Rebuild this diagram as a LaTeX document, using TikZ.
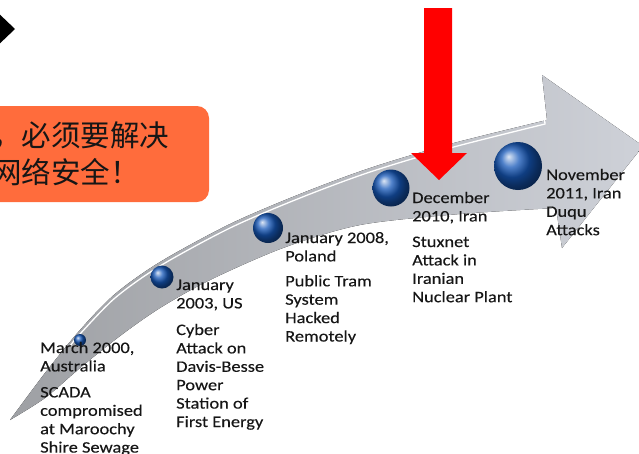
\documentclass[tikz,border=0pt]{standalone}
\usepackage{fontspec}
\setmainfont{Carlito}[FakeStretch=1.15,FakeBold=0.25]
\newfontfamily\cjkf{Noto Sans CJK SC}
\definecolor{txtc}{RGB}{22,22,22}
\definecolor{orbc}{RGB}{22,88,185}
\definecolor{boxc}{RGB}{255,108,60}
\definecolor{arrA}{RGB}{158,160,164}
\definecolor{arrB}{RGB}{194,197,204}
\definecolor{arrC}{RGB}{206,209,216}
\begin{document}
\begin{tikzpicture}[x=1pt,y=-1pt,
  evt/.style={anchor=base west, inner sep=0pt, text=txtc, font=\fontsize{16}{18.4}\selectfont},
  orb/.style={circle, inner sep=0pt, ball color=orbc, draw=none},
  cjk/.style={anchor=base west, inner sep=0pt, text=txtc, font=\cjkf\fontsize{29.5}{35}\selectfont}]
\useasboundingbox (0,0) rectangle (639,453);
\clip (0,0) rectangle (639,453);
% big curved arrow
\fill[left color=arrA, middle color=arrB, right color=arrC]
  plot[smooth] coordinates {(10,420) (45,373) (80,330) (115,294) (160,262) (230,224) (300,194) (370,168) (450,144) (547,120)}
  -- (542,75) -- (643,146) -- (562,248) -- (556,208)
  -- plot[smooth] coordinates {(556,208) (460,214) (360,225) (283,248) (210,280) (160,308) (120,336) (80,368) (45,398) (10,420)}
  -- cycle;
\draw[white, line width=1.3pt, line cap=round]
  plot[smooth] coordinates {(70,346) (80,334) (115,298) (160,266) (230,228) (300,198) (370,172) (450,148) (545,124)}
  -- (541,80);
% black diamond
\fill[black] (-7,8) -- (15,29) -- (-7,50) -- cycle;
% orange box
\fill[boxc, rounded corners=12pt] (-30,106) rectangle (209,202);
\node[cjk] (c1) at (-8,146) {，必须要解决};
\node[cjk] (c2) at (-8,183) {网络安全！};
% red arrow
\fill[red] (424,8) -- (452,8) -- (452,153) -- (467,153) -- (439,180) -- (411,153) -- (424,153) -- cycle;
% orbs
\node[orb, minimum size=12pt] (b1) at (80,340) {};
\node[orb, minimum size=23pt] (b2) at (162,277) {};
\node[orb, minimum size=30pt] (b3) at (268,228) {};
\node[orb, minimum size=37pt] (b4) at (391,188) {};
\node[orb, minimum size=48pt] (b5) at (518,166) {};
% texts
\node[evt] (t1) at (40,353) {\begin{tabular}[t]{@{}l@{}}March 2000,\\Australia\\[7.6pt]SCADA\\compromised\\at Maroochy\\Shire Sewage\end{tabular}};
\node[evt] (t2) at (176,290) {\begin{tabular}[t]{@{}l@{}}January\\2003, US\\[8.2pt]Cyber\\Attack on\\Davis-Besse\\Power\\Station of\\First Energy\end{tabular}};
\node[evt] (t3) at (285,243) {\begin{tabular}[t]{@{}l@{}}January 2008,\\Poland\\[6.5pt]Public Tram\\System\\Hacked\\Remotely\end{tabular}};
\node[evt] (t4) at (412,203) {\begin{tabular}[t]{@{}l@{}}December\\2010, Iran\\[7.2pt]Stuxnet\\Attack in\\Iranian\\Nuclear Plant\end{tabular}};
\node[evt] (t5) at (546,180) {\begin{tabular}[t]{@{}l@{}}November\\2011, Iran\\Duqu\\Attacks\end{tabular}};
\end{tikzpicture}
\end{document}
